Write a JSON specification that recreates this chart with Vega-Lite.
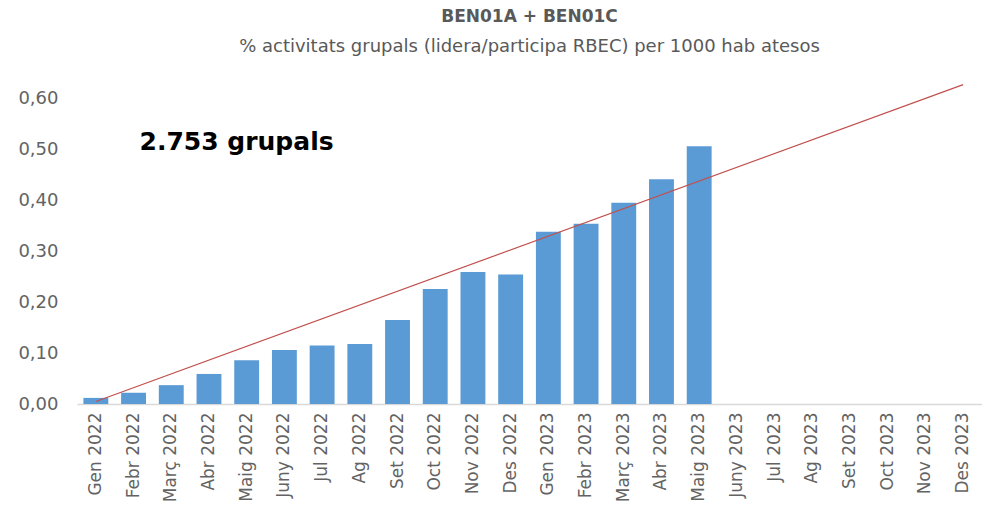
{
  "$schema": "https://vega.github.io/schema/vega-lite/v6.json",
  "width": 905,
  "height": 326,
  "padding": {"left": 17, "top": 8, "right": 0, "bottom": 0},
  "background": "white",
  "config": {"view": {"stroke": null}, "font": "DejaVu Sans"},
  "title": {
    "text": "BEN01A + BEN01C",
    "subtitle": "% activitats grupals (lidera/participa RBEC) per 1000 hab atesos",
    "font": "DejaVu Sans",
    "fontSize": 17,
    "fontWeight": "bold",
    "color": "#595959",
    "subtitleFont": "DejaVu Sans",
    "subtitleFontSize": 18,
    "subtitleColor": "#595959",
    "subtitlePadding": 12,
    "offset": 21,
    "anchor": "middle"
  },
  "datasets": {
    "bars": [
      {"month": "Gen 2022", "value": 0.012},
      {"month": "Febr 2022", "value": 0.022},
      {"month": "Març 2022", "value": 0.037},
      {"month": "Abr 2022", "value": 0.059},
      {"month": "Maig 2022", "value": 0.086},
      {"month": "Juny 2022", "value": 0.106},
      {"month": "Jul 2022", "value": 0.115},
      {"month": "Ag 2022", "value": 0.118},
      {"month": "Set 2022", "value": 0.165},
      {"month": "Oct 2022", "value": 0.226},
      {"month": "Nov 2022", "value": 0.259},
      {"month": "Des 2022", "value": 0.254},
      {"month": "Gen 2023", "value": 0.338},
      {"month": "Febr 2023", "value": 0.354},
      {"month": "Març 2023", "value": 0.395},
      {"month": "Abr 2023", "value": 0.441},
      {"month": "Maig 2023", "value": 0.506},
      {"month": "Juny 2023", "value": null},
      {"month": "Jul 2023", "value": null},
      {"month": "Ag 2023", "value": null},
      {"month": "Set 2023", "value": null},
      {"month": "Oct 2023", "value": null},
      {"month": "Nov 2023", "value": null},
      {"month": "Des 2023", "value": null}
    ],
    "trend": [
      {"month": "Gen 2022", "trend": 0.005},
      {"month": "Des 2023", "trend": 0.627}
    ],
    "note": [
      {"month": "Febr 2022", "y": 0.514, "label": "2.753 grupals"}
    ]
  },
  "layer": [
    {
      "data": {"name": "bars"},
      "mark": {"type": "bar", "color": "#5b9bd5"},
      "encoding": {
        "x": {
          "field": "month",
          "type": "nominal",
          "sort": null,
          "scale": {
            "domain": ["Gen 2022", "Febr 2022", "Març 2022", "Abr 2022", "Maig 2022", "Juny 2022", "Jul 2022", "Ag 2022", "Set 2022", "Oct 2022", "Nov 2022", "Des 2022", "Gen 2023", "Febr 2023", "Març 2023", "Abr 2023", "Maig 2023", "Juny 2023", "Jul 2023", "Ag 2023", "Set 2023", "Oct 2023", "Nov 2023", "Des 2023"],
            "paddingInner": 0.34,
            "paddingOuter": 0.17
          },
          "axis": {
            "title": null,
            "labelAngle": -90,
            "labelAlign": "right",
            "labelBaseline": "middle",
            "labelFont": "DejaVu Sans",
            "labelFontSize": 17,
            "labelColor": "#636363",
            "labelPadding": 8,
            "ticks": false,
            "domainColor": "#d9d9d9",
            "domainWidth": 1.5
          }
        },
        "y": {
          "field": "value",
          "type": "quantitative",
          "scale": {"domain": [0, 0.64], "nice": false},
          "axis": {
            "title": null,
            "values": [0, 0.1, 0.2, 0.3, 0.4, 0.5, 0.6],
            "format": ".2f",
            "labelExpr": "replace(datum.label, '.', ',')",
            "labelFont": "DejaVu Sans",
            "labelFontSize": 18,
            "labelColor": "#636363",
            "labelPadding": 19,
            "ticks": false,
            "domain": false,
            "grid": false
          }
        }
      }
    },
    {
      "data": {"name": "trend"},
      "mark": {"type": "line", "color": "#c0504d", "strokeWidth": 1.2},
      "encoding": {
        "x": {"field": "month", "type": "nominal", "sort": null},
        "y": {"field": "trend", "type": "quantitative"}
      }
    },
    {
      "data": {"name": "note"},
      "mark": {"type": "text", "align": "left", "baseline": "middle", "dx": 6, "fontSize": 25, "fontWeight": "bold", "font": "DejaVu Sans", "color": "#000000"},
      "encoding": {
        "x": {"field": "month", "type": "nominal", "sort": null},
        "y": {"field": "y", "type": "quantitative"},
        "text": {"field": "label"}
      }
    }
  ]
}
